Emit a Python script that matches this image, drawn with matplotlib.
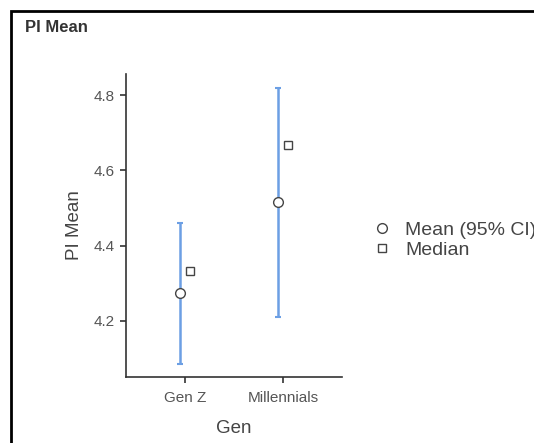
import matplotlib
matplotlib.use("Agg")
import matplotlib.pyplot as plt
from matplotlib.patches import Rectangle
from matplotlib.lines import Line2D

categories = ["Gen Z", "Millennials"]
means = [4.274, 4.516]
ci_low = [4.086, 4.210]
ci_high = [4.460, 4.820]
medians = [4.333, 4.667]
yticks = [4.2, 4.4, 4.6, 4.8]

plt.rcParams['font.family'] = ['Liberation Sans', 'DejaVu Sans']
W, H = 534, 443
fig = plt.figure(figsize=(W/100, H/100), dpi=100)

# outer frame
fig.patches.append(Rectangle((11/W, -0.1), 1.2, 1 - 11/H + 0.1, transform=fig.transFigure,
                             fill=False, edgecolor='black', linewidth=2))
fig.text(25/W, 1 - 28/H, "PI Mean", fontsize=12, fontweight='bold', color='#333333',
         ha='left', va='center')

ax = fig.add_axes([126/W, 1 - 377/H, (342-126)/W, (377-74)/H])
x = list(range(1, len(categories) + 1))
off = 0.05
xm = [v - off for v in x]
xmed = [v + off for v in x]
err = [[m - l for m, l in zip(means, ci_low)], [h - m for m, h in zip(means, ci_high)]]
ax.errorbar(xm, means, yerr=err, fmt='none', ecolor='#6c9fe4', elinewidth=1.8,
            capsize=2, capthick=1.5, zorder=2)
ax.plot(xm, means, 'o', ms=7, mfc='white', mec='#444444', mew=1, zorder=3, linestyle='none')
ax.plot(xmed, medians, 's', ms=6, mfc='white', mec='#444444', mew=1, zorder=3, linestyle='none')

ax.set_xlim(0.4, 2.6)
ax.set_ylim(4.051, 4.856)
ax.set_xticks(x)
ax.set_xticklabels(categories)
ax.set_yticks(yticks)
ax.set_yticklabels([f"{t:.1f}" for t in yticks])
for s in ['top', 'right']:
    ax.spines[s].set_visible(False)
for s in ['left', 'bottom']:
    ax.spines[s].set_color('#333333')
    ax.spines[s].set_linewidth(1.2)
ax.tick_params(colors='#333333', labelsize=11, length=4, width=1.2, labelcolor='#555555')
ax.tick_params(axis='x', pad=6)
ax.tick_params(axis='y', pad=4)
ax.set_xlabel("Gen", fontsize=13.5, color='#444444', labelpad=11)
ax.set_ylabel("PI Mean", fontsize=13.5, color='#444444', labelpad=8)

handles = [Line2D([], [], marker='o', ls='none', ms=7, mfc='white', mec='#444444', mew=1),
           Line2D([], [], marker='s', ls='none', ms=6, mfc='white', mec='#444444', mew=1)]
leg = fig.legend(handles, ["Mean (95% CI)", "Median"], loc='center left',
                 bbox_to_anchor=(372/W, 1 - 240/H), frameon=False, fontsize=14,
                 handlelength=1.0, handletextpad=0.7, labelspacing=0.15, borderaxespad=0,
                 borderpad=0)
for t in leg.get_texts():
    t.set_color('#444444')

fig.savefig("out.png", dpi=100)
